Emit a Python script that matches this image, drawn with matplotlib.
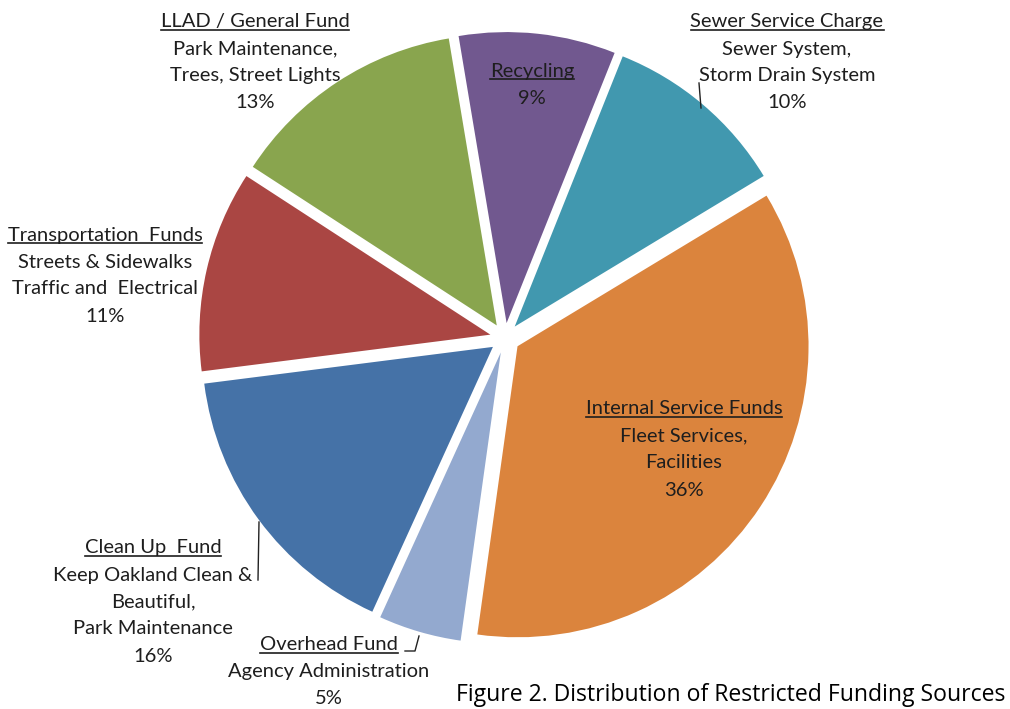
import matplotlib
matplotlib.use("Agg")
import matplotlib.pyplot as plt

# ---- data ----
categories = ["Recycling", "Sewer Service Charge", "Internal Service Funds",
              "Overhead Fund", "Clean Up  Fund", "Transportation  Funds",
              "LLAD / General Fund"]
# slice sizes (labels show rounded values)
shares = [8.7, 10.3, 35.9, 4.6, 16.2, 11.2, 13.2]
descriptions = [
    [],
    ["Sewer System,", "Storm Drain System"],
    ["Fleet Services,", "Facilities"],
    ["Agency Administration"],
    ["Keep Oakland Clean &", "Beautiful,", "Park Maintenance"],
    ["Streets & Sidewalks", "Traffic and  Electrical"],
    ["Park Maintenance,", "Trees, Street Lights"],
]
title = "Figure 2. Distribution of Restricted Funding Sources"

# ---- style / layout ----
colors = ["#71588F", "#4198AF", "#DB843D", "#93A9CF", "#4572A7", "#AA4643", "#89A54E"]
W, H = 1010, 709
FONT = "Lato"
TXT = "#1e1e1e"
# label anchor (x centre, y of first line) in image pixels
label_pos = [(532, 71), (787, 22), (684, 409), (329, 645), (153, 548), (105, 235), (255, 22)]
line_gap = 27

fig = plt.figure(figsize=(W / 100, H / 100), dpi=100)
ax = fig.add_axes([0, 0, 1, 1])

total = sum(shares)
cx, cy, R = 505, H - 338, 291
ax.pie(shares, colors=colors, startangle=99.5, counterclock=False,
       explode=[15] * len(shares), radius=R, center=(cx, cy),
       wedgeprops=dict(linewidth=0), frame=True)
ax.set_xlim(0, W)
ax.set_ylim(0, H)
ax.set_aspect("equal")
ax.axis("off")

fig.canvas.draw()
renderer = fig.canvas.get_renderer()

fs = 14.5
for cat, val, desc, (x, y) in zip(categories, shares, descriptions, label_pos):
    pct = round(100 * val / total)
    lines = [cat] + desc + [f"{pct}%"]
    for i, ln in enumerate(lines):
        yy = H - (y + i * line_gap)
        t = ax.text(x, yy, ln, ha="center", va="center", fontsize=fs,
                    family=FONT, color=TXT)
        if i == 0:
            bb = t.get_window_extent(renderer=renderer)
            inv = ax.transData.inverted()
            (x0, y0), (x1, y1) = inv.transform([(bb.x0, bb.y0), (bb.x1, bb.y1)])
            ax.plot([x0, x1], [y0 + 1, y0 + 1], color=TXT, lw=1.2)

# leader lines
ax.plot([699, 701], [H - 83, H - 108], color="#222222", lw=1)
ax.plot([259, 258], [H - 522, H - 580], color="#222222", lw=1)
ax.plot([405, 415, 419], [H - 651, H - 651, H - 636], color="#222222", lw=1)

ax.text(1005, H - 695, title, ha="right", va="center", fontsize=16.6,
        family="Open Sans", color="black")

fig.savefig("out.png", dpi=100)
